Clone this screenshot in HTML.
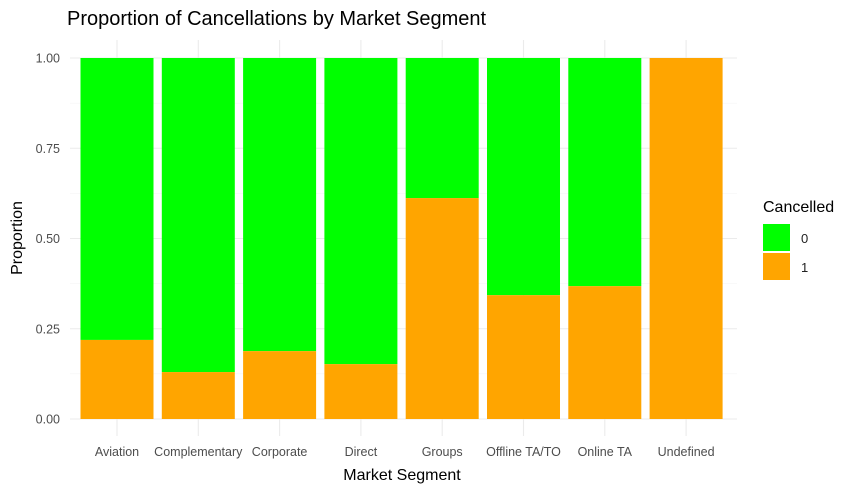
<!DOCTYPE html>
<html><head><meta charset="utf-8"><style>
body{margin:0;background:#fff;font-family:"Liberation Sans",sans-serif;}
</style></head><body>
<svg id="chart" width="861" height="492" xmlns="http://www.w3.org/2000/svg" font-family="Liberation Sans, sans-serif">
<text x="67" y="25" font-size="20" fill="#000">Proportion of Cancellations by Market Segment</text>
<g id="grid"></g>
<g id="bars"></g>
<g id="axes"></g>
<text x="402" y="480" font-size="16" text-anchor="middle">Market Segment</text>
<text transform="translate(22,238) rotate(-90)" font-size="16" text-anchor="middle">Proportion</text>
<g>
<text x="763" y="212" font-size="16">Cancelled</text>
<rect x="763" y="224" width="27" height="27" fill="#00ff00"/>
<text x="801" y="243" font-size="13" fill="#222">0</text>
<rect x="763" y="253" width="27" height="27" fill="#ffa500"/>
<text x="801" y="272" font-size="13" fill="#222">1</text>
</g>
</svg>
<script>
const categories=["Aviation","Complementary","Corporate","Direct","Groups","Offline TA/TO","Online TA","Undefined"];
const cancelled=[0.219,0.130,0.188,0.152,0.612,0.343,0.368,1.0];
const yTicks=[0,0.25,0.5,0.75,1.0];
const yTickLabels=["0.00","0.25","0.50","0.75","1.00"];
const NS="http://www.w3.org/2000/svg";
const y0=419,y1=58,xStart=117,step=81.3,bw=73,gx0=70,gx1=737;
const y=v=>y0-(y0-y1)*v;
const x=i=>xStart+i*step;
function mk(t,a,p){const e=document.createElementNS(NS,t);for(const k in a)e.setAttribute(k,a[k]);p.appendChild(e);return e;}
const grid=document.getElementById('grid'),bars=document.getElementById('bars'),axes=document.getElementById('axes');
for(let i=0;i<yTicks.length;i++){
 const l=mk('line',{x1:gx0,x2:gx1,y1:y(yTicks[i]),y2:y(yTicks[i]),stroke:'#ebebeb','stroke-width':1.1},grid);
 
 
 if(i<yTicks.length-1){const m=(yTicks[i]+yTicks[i+1])/2;
 const l2=mk('line',{x1:gx0,x2:gx1,y1:y(m),y2:y(m),stroke:'#f3f3f3','stroke-width':0.6},grid);
 
 }
 const t=mk('text',{x:60,y:y(yTicks[i])+4.5,'font-size':12.5,'text-anchor':'end',fill:'#4d4d4d'},axes);
 t.textContent=yTickLabels[i];
 
 
}
categories.forEach((c,i)=>{
 const g=mk('line',{x1:x(i),x2:x(i),y1:40,y2:436,stroke:'#ebebeb','stroke-width':1.1},grid);
 
 
 const r0=mk('rect',{x:x(i)-bw/2,y:y(1),width:bw,height:y(cancelled[i])-y(1),fill:'#00ff00'},bars);
 
 
 const r1=mk('rect',{x:x(i)-bw/2,y:y(cancelled[i]),width:bw,height:y(0)-y(cancelled[i]),fill:'#ffa500'},bars);
 
 
 const t=mk('text',{x:x(i),y:456,'font-size':12.5,'text-anchor':'middle',fill:'#4d4d4d'},axes);
 t.textContent=c;
 
 
});
</script>
</body></html>
